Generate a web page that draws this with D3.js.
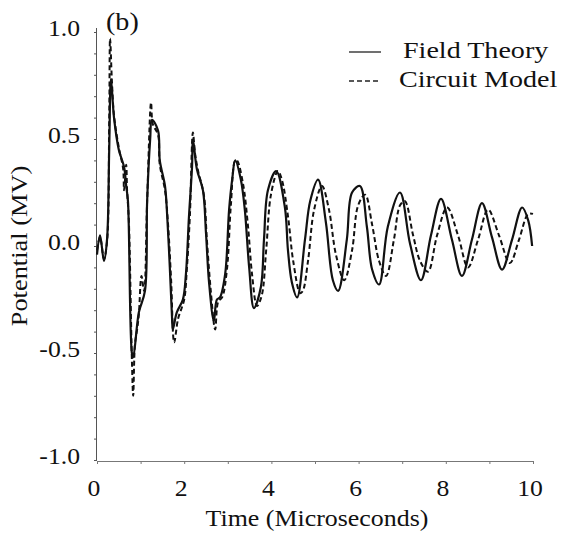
<!DOCTYPE html>
<html lang="en">
  <head>
    <meta charset="UTF-8" />
    <title>Potential vs Time</title>
    <script src="https://cdn.jsdelivr.net/npm/d3@7"></script>
    <style>
      body { margin: 0; background: #fff; }
      text { font-family: 'Liberation Serif', 'Times New Roman', serif; fill: #111; }
    </style>
  </head>
  <body>
    <div id="chart_svg"></div>
    <script>
      // time in microseconds, potential in MV
      const fieldT = [0, 0.07, 0.16, 0.23, 0.28, 0.32, 0.39, 0.5, 0.62, 0.67, 0.71, 0.8, 0.83, 0.96, 1.1, 1.15, 1.22, 1.26, 1.4, 1.44, 1.56, 1.61, 1.67, 1.72, 1.74, 1.83, 1.97, 2.04, 2.11, 2.18, 2.2, 2.29, 2.43, 2.5, 2.57, 2.68, 2.75, 2.82, 2.94, 3.03, 3.1, 3.17, 3.3, 3.39, 3.49, 3.6, 3.76, 3.83, 3.92, 4.11, 4.31, 4.38, 4.47, 4.59, 4.77, 4.89, 5.07, 5.25, 5.41, 5.53, 5.73, 5.85, 6.03, 6.19, 6.31, 6.47, 6.67, 6.95, 7.18, 7.43, 7.66, 7.89, 8.14, 8.37, 8.6, 8.83, 9.06, 9.29, 9.52, 9.75, 9.89, 9.98]
      const fieldV = [-0.04, 0.05, -0.07, 0.03, 0.45, 0.78, 0.6, 0.45, 0.37, 0.28, 0.21, -0.5, -0.52, -0.31, -0.21, 0.21, 0.5, 0.59, 0.54, 0.4, 0.28, 0.14, -0.1, -0.33, -0.39, -0.31, -0.25, -0.13, 0.14, 0.37, 0.5, 0.36, 0.26, 0.06, -0.17, -0.35, -0.25, -0.24, -0.13, 0.17, 0.31, 0.4, 0.31, 0.17, -0.1, -0.29, -0.19, 0.03, 0.26, 0.35, 0.18, -0.02, -0.17, -0.24, 0.03, 0.21, 0.31, 0.11, -0.16, -0.21, 0.03, 0.25, 0.28, 0.09, -0.11, -0.18, 0.09, 0.25, 0.01, -0.16, 0.05, 0.22, 0.03, -0.14, 0.03, 0.2, 0.04, -0.11, 0.03, 0.18, 0.12, 0.0]

      const circuitT = [0, 0.07, 0.16, 0.23, 0.28, 0.3, 0.34, 0.39, 0.5, 0.6, 0.62, 0.67, 0.69, 0.73, 0.8, 0.83, 0.87, 0.92, 0.96, 1.02, 1.08, 1.15, 1.24, 1.28, 1.4, 1.44, 1.56, 1.63, 1.7, 1.77, 1.86, 2.0, 2.06, 2.13, 2.2, 2.25, 2.32, 2.45, 2.52, 2.61, 2.71, 2.78, 2.87, 2.98, 3.07, 3.17, 3.21, 3.35, 3.46, 3.56, 3.67, 3.78, 3.88, 3.99, 4.15, 4.24, 4.38, 4.5, 4.66, 4.72, 4.84, 4.98, 5.16, 5.32, 5.48, 5.67, 5.85, 5.99, 6.15, 6.31, 6.47, 6.63, 6.81, 6.95, 7.06, 7.25, 7.41, 7.59, 7.8, 8.03, 8.28, 8.51, 8.74, 8.97, 9.22, 9.47, 9.68, 9.89, 10.0]
      const circuitV = [-0.02, 0.04, -0.06, 0.02, 0.59, 0.97, 0.78, 0.61, 0.46, 0.36, 0.26, 0.38, 0.26, 0.12, -0.53, -0.7, -0.46, -0.39, -0.32, -0.14, -0.21, 0.21, 0.67, 0.57, 0.52, 0.38, 0.26, 0.1, -0.16, -0.45, -0.34, -0.25, -0.11, 0.14, 0.53, 0.43, 0.35, 0.24, 0.03, -0.21, -0.39, -0.26, -0.24, -0.11, 0.19, 0.4, 0.4, 0.29, 0.1, -0.14, -0.28, -0.23, -0.02, 0.24, 0.35, 0.31, 0.14, -0.07, -0.22, -0.21, -0.07, 0.17, 0.28, 0.17, -0.04, -0.16, -0.02, 0.19, 0.24, 0.1, -0.07, -0.14, 0.03, 0.19, 0.21, 0.05, -0.07, -0.12, 0.05, 0.18, 0.05, -0.1, 0.03, 0.17, 0.05, -0.08, 0.03, 0.15, 0.15]

      const xTicks = [0, 2, 4, 6, 8, 10]
      const yTicks = [-1.0, -0.5, 0.0, 0.5, 1.0]
      const legendNames = ['Field Theory', 'Circuit Model']

      const width = 572
      const height = 536
      const ml = 97, mt = 32, mr = 39, mb = 76
      const fs = 24

      const svg = d3
        .select('#chart_svg')
        .append('svg')
        .attr('width', width)
        .attr('height', height)

      const x = d3.scaleLinear().domain([0, 10]).range([ml, width - mr])
      const y = d3.scaleLinear().domain([-1, 1]).range([height - mb, mt])

      // the scanned type is a little wider than Liberation Serif
      function stretched(sel, cx, cy, sx) {
        return sel.attr('transform', `translate(${cx},${cy}) scale(${sx},1)`)
      }

      // left axis with minor ticks
      const yAxis = svg.append('g').attr('transform', `translate(${ml},0)`)
      yAxis
        .call(d3.axisLeft(y).tickValues(d3.range(-10, 11).map(d => d / 10)).tickSize(3).tickFormat(''))
        .call(g => g.select('.domain').attr('d', `M-0.5,${y(-1) + 1}V${y(1) - 4}`))
      yAxis.selectAll('line, path').attr('stroke', '#555')

      svg
        .selectAll('.ylab')
        .data(yTicks)
        .enter()
        .append('text')
        .attr('text-anchor', 'end')
        .attr('font-size', fs)
        .each(function (d) {
          stretched(d3.select(this), ml - 17, y(d) + 4, 1.07)
        })
        .text(d => d.toFixed(1))

      const xAxis = svg.append('g').attr('transform', `translate(0,${y(-1) + 1})`)
      xAxis
        .call(d3.axisBottom(x).tickValues(d3.range(0, 11)).tickSize(3).tickFormat(''))
      xAxis.selectAll('line, path').attr('stroke', '#777')

      svg
        .selectAll('.xlab')
        .data(xTicks)
        .enter()
        .append('text')
        .attr('text-anchor', 'middle')
        .attr('font-size', fs)
        .each(function (d) {
          stretched(d3.select(this), x(d) - 3, y(-1) + 36, 1.07)
        })
        .text(d => d)

      svg
        .append('text')
        .attr('text-anchor', 'middle')
        .attr('font-size', fs)
        .call(stretched, 317, 526, 1.08)
        .text('Time (Microseconds)')

      svg
        .append('text')
        .attr('transform', `translate(27,${y(0)}) rotate(-90) scale(1.1,1)`)
        .attr('text-anchor', 'middle')
        .attr('font-size', fs)
        .text('Potential (MV)')

      svg
        .append('text')
        .attr('font-size', fs + 2)
        .call(stretched, 106, 30, 1.08)
        .text('(b)')

      const line = d3
        .line()
        .x(d => x(d[0]))
        .y(d => y(d[1]))
        .curve(d3.curveCatmullRom.alpha(0.5))

      const field = d3.zip(fieldT, fieldV)
      const circuit = d3.zip(circuitT, circuitV)

      svg
        .append('path')
        .datum(circuit)
        .attr('d', line)
        .attr('fill', 'none')
        .attr('stroke', '#111')
        .attr('stroke-width', 2)
        .attr('stroke-dasharray', '5,3')

      svg
        .append('path')
        .datum(field)
        .attr('d', line)
        .attr('fill', 'none')
        .attr('stroke', '#111')
        .attr('stroke-width', 2.2)

      // legend
      const legend = svg.append('g')
      legendNames.forEach((name, i) => {
        const ly = 52 + i * 29
        legend
          .append('line')
          .attr('x1', 349)
          .attr('x2', 381)
          .attr('y1', ly)
          .attr('y2', ly)
          .attr('stroke', '#222')
          .attr('stroke-width', 1.3)
          .attr('stroke-dasharray', i ? '5,3' : null)
        legend
          .append('text')
          .attr('font-size', fs)
          .call(stretched, i ? 399 : 403, ly + 6, 1.17)
          .text(name)
      })
    </script>
  </body>
</html>
